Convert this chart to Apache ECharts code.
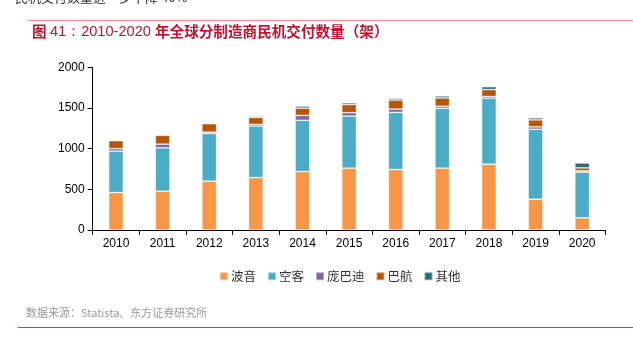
<!DOCTYPE html>
<html>
<head>
<meta charset="utf-8">
<script src="https://cdn.jsdelivr.net/npm/echarts@6/dist/echarts.min.js"></script>
<style>html,body{margin:0;padding:0;background:#fff;}#c{width:633px;height:357px;}</style>
</head>
<body>
<div id="c"></div>
<script>
var categories = ['2010','2011','2012','2013','2014','2015','2016','2017','2018','2019','2020'];
var boeing     = [460, 477, 600, 645, 718, 760, 744, 760, 808, 378, 150];
var airbus     = [510, 533, 588, 632, 630, 640, 702, 736, 812, 860, 562];
var bombardier = [ 30,  45,  15,  21,  60,  42,  40,  25,  20,  30,  15];
var embraer    = [ 98, 110, 104,  86,  90, 100, 112, 102,  86,  86,  37];
var others     = [  4,   5,   4,  14,  25,  22,  20,  25,  36,  25,  60];
var seriesNames = ['波音','空客','庞巴迪','巴航','其他'];
var yTicks = [0, 500, 1000, 1500, 2000];

var colors = ['#F79646','#4BACC6','#8064A2','#B65708','#276A7C'];
var dataSets = [boeing, airbus, bombardier, embraer, others];
var chart = echarts.init(document.getElementById('c'), null, {renderer:'canvas'});
var font = '"Liberation Sans", Arial, "Noto Sans CJK SC", sans-serif';
chart.setOption({
  animation: false,
  color: colors,
  textStyle: {fontFamily: font},
  grid: {left: 92.7, right: 27.5, top: 67.3, bottom: 127},
  legend: {
    data: seriesNames, top: 265, left: 214,
    itemWidth: 8, itemHeight: 8, itemGap: 11,
    icon: 'rect',
    textStyle: {color: '#333', fontSize: 12.5, fontFamily: '"Noto Sans CJK SC", sans-serif', padding: [0,0,0,-2]}
  },
  xAxis: {
    type: 'category', data: categories,
    axisLine: {lineStyle: {color: '#000', width: 1}},
    axisTick: {show: true, length: 5, lineStyle: {color: '#000'}},
    axisLabel: {color: '#000', fontSize: 12, margin: 8}
  },
  yAxis: {
    type: 'value', min: 0, max: 2000, interval: 500,
    axisLine: {show: true, lineStyle: {color: '#000'}},
    axisTick: {show: true, length: 5, lineStyle: {color: '#000'}},
    splitLine: {show: false},
    axisLabel: {color: '#000', fontSize: 12, margin: 8,
      formatter: function(v){ return yTicks.indexOf(v) >= 0 ? String(v) : ''; }}
  },
  series: seriesNames.map(function(n, i){
    return {
      name: n, type: 'bar', stack: 'total', data: dataSets[i],
      barWidth: '31.5%',
      itemStyle: {borderColor: 'rgba(255,255,255,0.45)', borderWidth: 0.8}
    };
  }),
  graphic: [
    {type: 'text', left: 15, top: -9, style: {text: '民机交付数量进一步下降 40%', fill: '#333', font: '13px "Noto Sans CJK SC", sans-serif'}},
    {type: 'line', shape: {x1: 28, y1: 20.5, x2: 633, y2: 20.5}, style: {stroke: '#EA9A9A', lineWidth: 1.5}},
    {type: 'text', left: 32, top: 24, style: {
      rich: {
        a: {font: 'bold 14.6px "Noto Sans CJK SC", sans-serif', fill: '#C8102E'},
        b: {font: '14.6px "Liberation Sans", Arial, sans-serif', fill: '#C8102E'}
      },
      text: '{a|图 }{b|41：2010-2020 }{a|年全球分制造商民机交付数量（架）}'
    }},
    {type: 'text', left: 26, top: 307, style: {text: '数据来源：Statista、东方证券研究所', fill: '#999', font: '11px "Noto Sans CJK SC", sans-serif'}},
    {type: 'line', shape: {x1: 18, y1: 327.5, x2: 633, y2: 327.5}, style: {stroke: '#D9343A', lineWidth: 1.2}}
  ]
});
</script>
</body>
</html>
